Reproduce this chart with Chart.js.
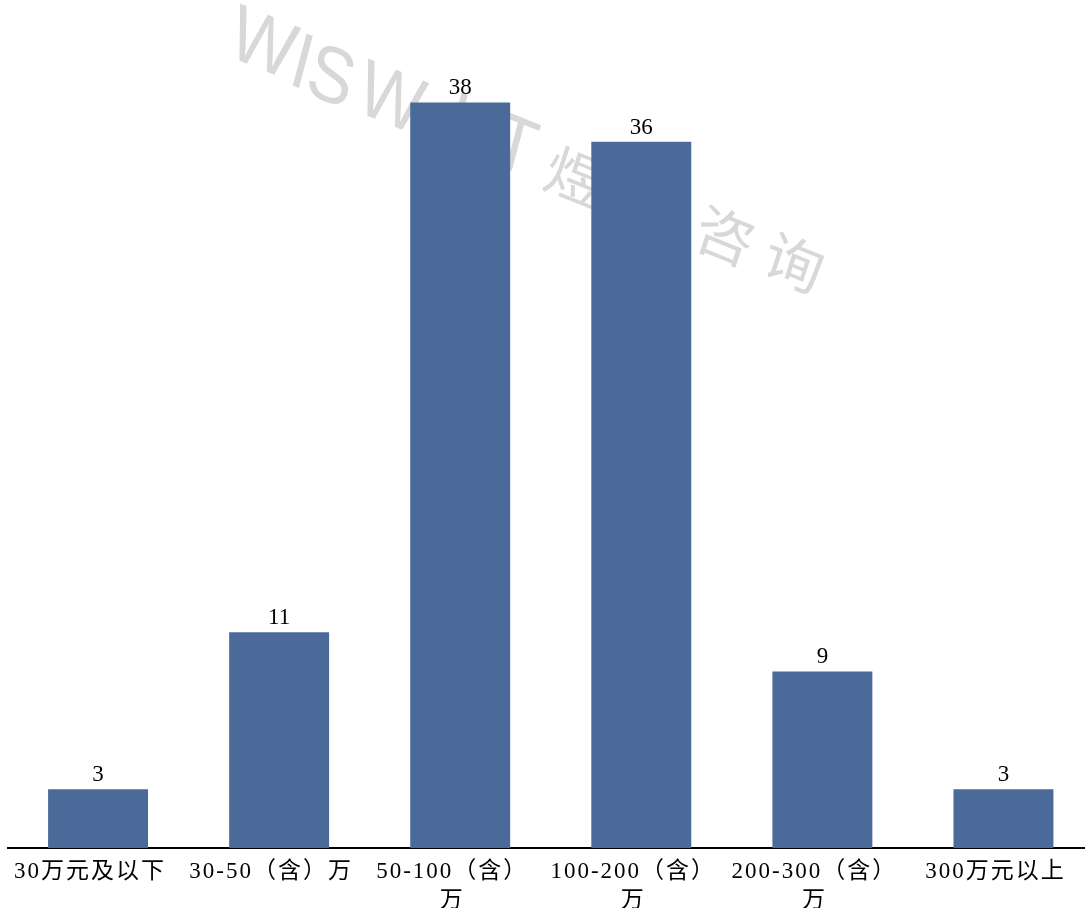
<!DOCTYPE html>
<html>
<head>
<meta charset="utf-8">
<script src="https://cdn.jsdelivr.net/npm/chart.js@4/dist/chart.umd.min.js"></script>
<style>
  html, body { margin: 0; padding: 0; background: #ffffff; overflow: hidden; }
  #wrap { width: 1094px; height: 908px; }
</style>
</head>
<body>
<div id="wrap"><canvas id="chart" width="1094" height="908"></canvas></div>
<script>
// Price bands (万元) and the number of items in each band
const categories = [
  '30万元及以下',
  '30-50（含）万',
  ['50-100（含）', '万'],
  ['100-200（含）', '万'],
  ['200-300（含）', '万'],
  '300万元以上'
];
const counts = [3, 11, 38, 36, 9, 3];

const barColor = '#4A6B99';
const serifStack = '"Liberation Serif", "Noto Sans CJK SC", serif';

// Faint slanted brand mark, painted glyph by glyph underneath the bars.
// Each glyph: character, centre x, centre y, latin/cjk style.
const markGlyphs = [
  ['W', 264, 45, 'L'], ['I', 303, 64, 'L'], ['S', 332, 78, 'L'],
  ['W', 392, 100, 'L'], ['I', 458, 123, 'L'], ['T', 516, 147, 'L'],
  ['煜', 576, 177, 'C'], ['城', 650, 207, 'C'], ['咨', 726, 236, 'C'], ['询', 795, 263, 'C']
];
const watermark = {
  id: 'watermark',
  beforeDatasetsDraw(chart) {
    const ctx = chart.ctx;
    const a = 22 * Math.PI / 180;     // slope of the baseline
    ctx.save();
    ctx.fillStyle = '#d8d8d8';
    ctx.textAlign = 'center';
    ctx.textBaseline = 'middle';
    markGlyphs.forEach(([ch, cx, cy, kind]) => {
      const latin = kind === 'L';
      const b = (latin ? 15 : 18) * Math.PI / 180;   // lean of the upright strokes
      const sx = latin ? 1.1 : 1.08;
      const sy = latin ? 1.22 : 1.0;
      ctx.save();
      ctx.translate(cx, cy);
      ctx.transform(sx * Math.cos(a), sx * Math.sin(a), -sy * Math.sin(b), sy * Math.cos(b), 0, 0);
      ctx.font = latin
        ? '64px "Liberation Sans", Arial, sans-serif'
        : '56px "Noto Sans CJK SC", sans-serif';
      ctx.fillText(ch, 0, latin ? 2 : 0);
      ctx.restore();
    });
    ctx.restore();
  }
};

// Slightly looser letter spacing for the category names
const tickSpacing = {
  id: 'tickSpacing',
  beforeDraw(chart) { chart.ctx.letterSpacing = '2px'; },
  afterDraw(chart) { chart.ctx.letterSpacing = '0px'; }
};

// Value printed above each bar
const valueLabels = {
  id: 'valueLabels',
  afterDatasetsDraw(chart) {
    const ctx = chart.ctx;
    const meta = chart.getDatasetMeta(0);
    ctx.save();
    ctx.letterSpacing = '0px';
    ctx.fillStyle = '#000000';
    ctx.font = '23px ' + serifStack;
    ctx.textAlign = 'center';
    ctx.textBaseline = 'alphabetic';
    meta.data.forEach((bar, i) => {
      ctx.fillText(String(chart.data.datasets[0].data[i]), bar.x, bar.y - 8);
    });
    ctx.restore();
  }
};

new Chart(document.getElementById('chart'), {
  type: 'bar',
  data: {
    labels: categories,
    datasets: [{
      data: counts,
      backgroundColor: barColor,
      borderWidth: 0,
      categoryPercentage: 1.0,
      barPercentage: 0.552
    }]
  },
  options: {
    responsive: false,
    animation: false,
    layout: { padding: { top: 63.2, left: 7.5, right: 0, bottom: 0 } },
    plugins: {
      legend: { display: false },
      tooltip: { enabled: false }
    },
    scales: {
      x: {
        grid: { display: false, drawTicks: false },
        border: { display: true, color: '#000000', width: 2 },
        ticks: {
          color: '#000000',
          padding: 10,
          labelOffset: -8,
          maxRotation: 0,
          autoSkip: false,
          font: { family: serifStack, size: 23, lineHeight: 1.25 }
        },
        afterFit(scale) { scale.height = 60; }
      },
      y: {
        display: false,
        min: 0,
        max: 40
      }
    }
  },
  plugins: [tickSpacing, watermark, valueLabels]
});
</script>
</body>
</html>
